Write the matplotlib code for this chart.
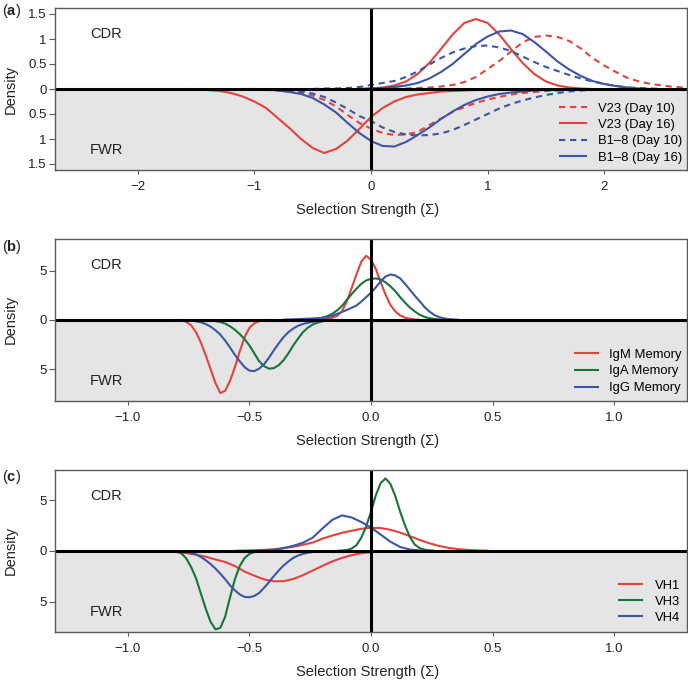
import numpy as np
import matplotlib
matplotlib.use("Agg")
import matplotlib.pyplot as plt
from matplotlib.ticker import FixedLocator, FixedFormatter

plt.rcParams['font.family'] = ['Liberation Sans', 'DejaVu Sans']
plt.rcParams['mathtext.fontset'] = 'custom'
plt.rcParams['mathtext.rm'] = 'Liberation Sans'
plt.rcParams['mathtext.bf'] = 'Liberation Sans:bold'

RED = '#e5423e'
GREEN = '#16733a'
BLUE = '#3d55a3'
GREY_BG = '#e5e5e5'
EDGE = '#5a5a5a'

# ---- panel (a): densities, every 0.1 from the start value
v23_d10_cdr_x0 = 0.2
v23_d10_cdr = [0.0, 0.01, 0.02, 0.03, 0.05, 0.08, 0.14, 0.24, 0.4, 0.56, 0.75, 0.93,
               1.04, 1.07, 1.04, 0.96, 0.81, 0.62, 0.47, 0.34, 0.22, 0.15, 0.1, 0.07,
               0.04, 0.03]
v23_d16_cdr_x0 = -0.1
v23_d16_cdr = [0.0, 0.01, 0.03, 0.07, 0.15, 0.3, 0.52, 0.8, 1.09, 1.32, 1.4, 1.32,
               1.09, 0.8, 0.52, 0.3, 0.15, 0.07, 0.03, 0.01, 0.0]
b18_d10_cdr_x0 = -0.5
b18_d10_cdr = [0.0, 0.01, 0.01, 0.02, 0.04, 0.08, 0.12, 0.16, 0.24, 0.35, 0.49, 0.62,
               0.73, 0.81, 0.86, 0.87, 0.83, 0.76, 0.65, 0.54, 0.44, 0.36, 0.28, 0.21,
               0.15, 0.1, 0.06, 0.03, 0.02, 0.01, 0.0]
b18_d16_cdr_x0 = -0.1
b18_d16_cdr = [0.0, 0.01, 0.02, 0.04, 0.07, 0.12, 0.21, 0.34, 0.5, 0.7, 0.9, 1.05,
               1.15, 1.17, 1.1, 0.94, 0.75, 0.55, 0.39, 0.26, 0.16, 0.1, 0.06, 0.03,
               0.01, 0.0]

v23_d10_fwr_x0 = -1.1
v23_d10_fwr = [0.0, 0.01, 0.02, 0.03, 0.05, 0.08, 0.13, 0.22, 0.35, 0.52, 0.68, 0.79,
               0.88, 0.92, 0.91, 0.86, 0.72, 0.59, 0.46, 0.36, 0.28, 0.21, 0.16, 0.11,
               0.08, 0.06, 0.04, 0.03, 0.02, 0.01, 0.01, 0.0]
v23_d16_fwr_x0 = -1.6
v23_d16_fwr = [0.0, 0.01, 0.02, 0.04, 0.08, 0.15, 0.25, 0.38, 0.58, 0.78, 1.0, 1.18,
               1.28, 1.2, 1.03, 0.8, 0.56, 0.38, 0.25, 0.16, 0.11, 0.08, 0.05, 0.04,
               0.03, 0.02, 0.01, 0.0]
b18_d10_fwr_x0 = -1.0
b18_d10_fwr = [0.0, 0.01, 0.02, 0.03, 0.05, 0.09, 0.16, 0.27, 0.4, 0.54, 0.64, 0.77,
               0.86, 0.91, 0.93, 0.92, 0.89, 0.82, 0.72, 0.61, 0.5, 0.39, 0.3, 0.23,
               0.17, 0.12, 0.08, 0.05, 0.03, 0.02, 0.01, 0.0]
b18_d16_fwr_x0 = -1.1
b18_d16_fwr = [0.0, 0.0, 0.01, 0.03, 0.06, 0.1, 0.18, 0.31, 0.47, 0.68, 0.88, 1.04,
               1.14, 1.15, 1.06, 0.92, 0.77, 0.6, 0.45, 0.32, 0.22, 0.15, 0.1, 0.07,
               0.05, 0.03, 0.02, 0.01, 0.0]

# ---- panel (b): every 0.02
igm_cdr_x0 = -0.22
igm_cdr = [0.02, 0.04, 0.09, 0.2, 0.4, 0.85, 1.85, 3.2, 4.6, 5.9, 6.5, 6.1, 5.15, 3.8,
           2.55, 1.5, 0.85, 0.45, 0.22, 0.1, 0.04, 0.01]
iga_cdr_x0 = -0.3
iga_cdr = [0.02, 0.04, 0.06, 0.08, 0.13, 0.22, 0.38, 0.6, 0.95, 1.4, 2.0, 2.6, 3.15,
           3.65, 4.0, 4.15, 4.2, 4.1, 3.8, 3.4, 2.9, 2.3, 1.75, 1.25, 0.85, 0.52, 0.3,
           0.17, 0.09, 0.04, 0.02]
igg_cdr_x0 = -0.36
igg_cdr = [0.02, 0.04, 0.06, 0.08, 0.1, 0.12, 0.14, 0.16, 0.2, 0.26, 0.4, 0.6, 0.8,
           1.0, 1.22, 1.45, 1.85, 2.3, 2.75, 3.3, 3.9, 4.4, 4.6, 4.5, 4.2, 3.65, 3.05,
           2.45, 1.9, 1.3, 0.85, 0.5, 0.28, 0.15, 0.08, 0.04, 0.02]
igm_fwr_x0 = -0.8
igm_fwr = [0.0, 0.05, 0.2, 0.55, 1.25, 2.3, 3.6, 5.0, 6.4, 7.42, 7.2, 6.2, 4.8, 3.2,
           1.75, 0.8, 0.35, 0.12, 0.04, 0.0]
iga_fwr_x0 = -0.7
iga_fwr = [0.02, 0.05, 0.08, 0.13, 0.22, 0.38, 0.65, 1.0, 1.45, 1.95, 2.6, 3.4, 4.2,
           4.7, 4.95, 4.9, 4.6, 4.1, 3.4, 2.6, 1.9, 1.25, 0.8, 0.48, 0.28, 0.15, 0.08,
           0.04, 0.02]
igg_fwr_x0 = -0.78
igg_fwr = [0.02, 0.05, 0.09, 0.15, 0.25, 0.42, 0.68, 1.05, 1.5, 2.1, 2.8, 3.55, 4.2,
           4.8, 5.15, 5.2, 4.95, 4.5, 3.85, 3.1, 2.4, 1.75, 1.25, 0.88, 0.6, 0.42, 0.3,
           0.2, 0.13, 0.08, 0.05, 0.03, 0.02]

# ---- panel (c): VH1 CDR/FWR and VH4 CDR every 0.04, the rest every 0.02
vh1_cdr_x0 = -0.56
vh1_cdr = [0.01, 0.03, 0.06, 0.1, 0.16, 0.26, 0.4, 0.6, 0.82, 1.2, 1.5, 1.78, 1.98,
           2.18, 2.27, 2.25, 2.08, 1.8, 1.45, 1.08, 0.75, 0.48, 0.29, 0.17, 0.09,
           0.04, 0.02]
vh3_cdr_x0 = -0.14
vh3_cdr = [0.01, 0.03, 0.08, 0.22, 0.55, 1.3, 2.4, 3.86, 5.5, 6.7, 7.15, 6.6, 5.4,
           3.86, 2.5, 1.35, 0.62, 0.27, 0.12, 0.05, 0.02]
vh4_cdr_x0 = -0.48
vh4_cdr = [0.01, 0.03, 0.1, 0.27, 0.5, 0.8, 1.3, 2.2, 3.05, 3.5, 3.3, 2.85, 2.3, 1.6,
           0.9, 0.38, 0.13, 0.04, 0.01]
vh1_fwr_x0 = -0.84
vh1_fwr = [0.06, 0.12, 0.22, 0.38, 0.58, 0.85, 1.1, 1.5, 2.05, 2.45, 2.82, 3.0, 3.0,
           2.78, 2.4, 1.95, 1.48, 1.05, 0.7, 0.43, 0.24, 0.13, 0.06, 0.02]
vh3_fwr_x0 = -0.82
vh3_fwr = [0.01, 0.05, 0.25, 0.75, 1.6, 2.7, 4.2, 5.7, 7.0, 7.75, 7.6, 6.5, 4.6, 2.8,
           1.5, 0.7, 0.3, 0.12, 0.05, 0.02]
vh4_fwr_x0 = -0.8
vh4_fwr = [0.02, 0.05, 0.1, 0.2, 0.35, 0.6, 0.92, 1.3, 1.75, 2.25, 2.8, 3.4, 3.9, 4.3,
           4.55, 4.58, 4.45, 4.15, 3.65, 3.1, 2.5, 1.95, 1.45, 1.05, 0.7, 0.46, 0.3,
           0.19, 0.11, 0.06, 0.03]

a_labels = ['V23 (Day 10)', 'V23 (Day 16)', 'B1\u20138 (Day 10)', 'B1\u20138 (Day 16)']
b_labels = ['IgM Memory', 'IgA Memory', 'IgG Memory']
c_labels = ['VH1', 'VH3', 'VH4']


def xs(x0, vals, step):
    return x0 + step * np.arange(len(vals))


def draw(ax, x0, vals, step, color, ls, label=None, down=False):
    y = np.array(vals)
    if down:
        y = -y
    ax.plot(xs(x0, vals, step), y, color=color, lw=1.5, ls=ls, label=label,
            zorder=2, solid_capstyle='butt', solid_joinstyle='round')


def setup(ax, xlim, ylim, xticks, xlabels, yticks, ylabels):
    ax.set_xlim(*xlim)
    ax.set_ylim(-ylim, ylim)
    ax.axhspan(-ylim * 2, 0, color=GREY_BG, zorder=0, lw=0)
    ax.axhline(0, color='black', lw=2.2, zorder=3)
    ax.axvline(0, color='black', lw=2.2, zorder=3)
    ax.xaxis.set_major_locator(FixedLocator(xticks))
    ax.xaxis.set_major_formatter(FixedFormatter(xlabels))
    ax.yaxis.set_major_locator(FixedLocator(yticks))
    ax.yaxis.set_major_formatter(FixedFormatter(ylabels))
    ax.tick_params(axis='x', length=3.1, width=0.8, color=EDGE, pad=5,
                   labelsize=9.5, labelcolor='#222222')
    ax.tick_params(axis='y', length=4.3, width=0.8, color=EDGE, pad=1.9,
                   labelsize=9.5, labelcolor='#222222')
    for s in ax.spines.values():
        s.set_color(EDGE)
        s.set_linewidth(1.0)
        s.set_zorder(4)
    ax.text(0.0554, 0.817, 'CDR', transform=ax.transAxes, fontsize=10.5,
            va='baseline', ha='left', color='#222222')
    ax.text(0.0554, 0.096, 'FWR', transform=ax.transAxes, fontsize=10.5,
            va='baseline', ha='left', color='#222222')
    ax.text(-0.0696, 0.5, 'Density', transform=ax.transAxes, rotation=90,
            fontsize=10.5, ha='center', va='center', color='#222222')
    ax.text(0.495, -0.272, 'Selection Strength (\u03a3)', transform=ax.transAxes,
            fontsize=10.5, ha='center', va='baseline', color='#222222')


fig = plt.figure(figsize=(6.88, 6.81), dpi=100)
W = 688.0
H = 681.0
left = 55 / W
width = (687 - 55) / W

# panel (a)
ax_a = fig.add_axes([left, 1 - 170 / H, width, 162 / H])
setup(ax_a, (-2.71, 2.71), 1.62, [-2, -1, 0, 1, 2],
      ['\u22122', '\u22121', '0', '1', '2'],
      [-1.5, -1, -0.5, 0, 0.5, 1, 1.5], ['1.5', '1', '0.5', '0', '0.5', '1', '1.5'])
dash = (0, (3.0, 2.3))
draw(ax_a, v23_d10_cdr_x0, v23_d10_cdr, 0.1, RED, dash, a_labels[0])
draw(ax_a, v23_d16_cdr_x0, v23_d16_cdr, 0.1, RED, '-', a_labels[1])
draw(ax_a, b18_d10_cdr_x0, b18_d10_cdr, 0.1, BLUE, dash, a_labels[2])
draw(ax_a, b18_d16_cdr_x0, b18_d16_cdr, 0.1, BLUE, '-', a_labels[3])
draw(ax_a, v23_d10_fwr_x0, v23_d10_fwr, 0.1, RED, dash, down=True)
draw(ax_a, v23_d16_fwr_x0, v23_d16_fwr, 0.1, RED, '-', down=True)
draw(ax_a, b18_d10_fwr_x0, b18_d10_fwr, 0.1, BLUE, dash, down=True)
draw(ax_a, b18_d16_fwr_x0, b18_d16_fwr, 0.1, BLUE, '-', down=True)
ax_a.legend(loc='lower right', bbox_to_anchor=(0.992, 0.04), frameon=False,
            fontsize=9.4, borderpad=0, borderaxespad=0, handlelength=2.1,
            handletextpad=0.85, labelspacing=0.32)

# panel (b)
bx_ticks = [-1.0, -0.5, 0.0, 0.5, 1.0]
bx_labels = ['\u22121.0', '\u22120.5', '0.0', '0.5', '1.0']
ax_b = fig.add_axes([left, 1 - 400.7 / H, width, 161.7 / H])
setup(ax_b, (-1.3, 1.3), 8.2, bx_ticks, bx_labels, [-5, 0, 5], ['5', '0', '5'])
draw(ax_b, igm_cdr_x0, igm_cdr, 0.02, RED, '-', b_labels[0])
draw(ax_b, iga_cdr_x0, iga_cdr, 0.02, GREEN, '-', b_labels[1])
draw(ax_b, igg_cdr_x0, igg_cdr, 0.02, BLUE, '-', b_labels[2])
draw(ax_b, igm_fwr_x0, igm_fwr, 0.02, RED, '-', down=True)
draw(ax_b, iga_fwr_x0, iga_fwr, 0.02, GREEN, '-', down=True)
draw(ax_b, igg_fwr_x0, igg_fwr, 0.02, BLUE, '-', down=True)
ax_b.legend(loc='lower right', bbox_to_anchor=(0.992, 0.04), frameon=False,
            fontsize=9.4, borderpad=0, borderaxespad=0, handlelength=1.9,
            handletextpad=0.8, labelspacing=0.36)

# panel (c)
ax_c = fig.add_axes([left, 1 - 631.7 / H, width, 161.7 / H])
setup(ax_c, (-1.3, 1.3), 7.98, bx_ticks, bx_labels, [-5, 0, 5], ['5', '0', '5'])
draw(ax_c, vh1_cdr_x0, vh1_cdr, 0.04, RED, '-', c_labels[0])
draw(ax_c, vh3_cdr_x0, vh3_cdr, 0.02, GREEN, '-', c_labels[1])
draw(ax_c, vh4_cdr_x0, vh4_cdr, 0.04, BLUE, '-', c_labels[2])
draw(ax_c, vh1_fwr_x0, vh1_fwr, 0.04, RED, '-', down=True)
draw(ax_c, vh3_fwr_x0, vh3_fwr, 0.02, GREEN, '-', down=True)
draw(ax_c, vh4_fwr_x0, vh4_fwr, 0.02, BLUE, '-', down=True)
ax_c.legend(loc='lower right', bbox_to_anchor=(0.99, 0.05), frameon=False,
            fontsize=9.4, borderpad=0, borderaxespad=0, handlelength=1.9,
            handletextpad=0.95, labelspacing=0.3)

# panel letters
for txt, yy in [('a', 1 - 15 / H), ('b', 1 - 251 / H), ('c', 1 - 481 / H)]:
    fig.text(0.003, yy, '($\\mathbf{' + txt + '}$)', fontsize=10.5,
             va='baseline', ha='left', color='#222222')

fig.savefig('out.png', dpi=100)
